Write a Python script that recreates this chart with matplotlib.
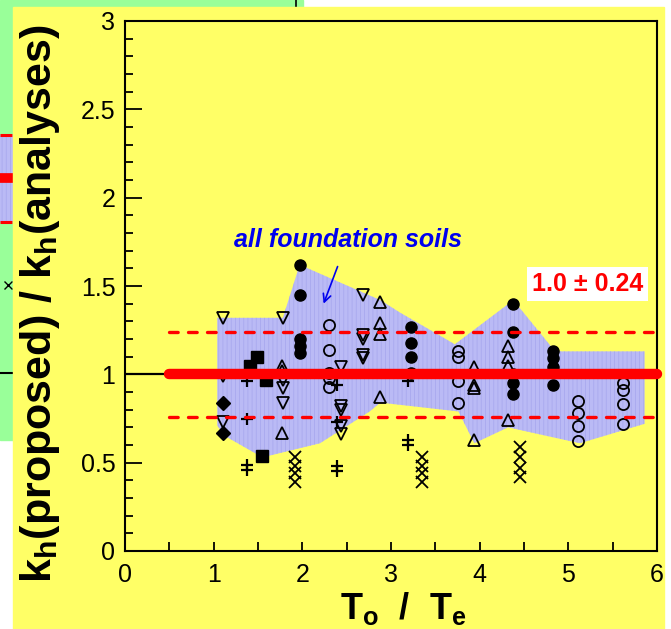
import matplotlib
matplotlib.use("Agg")
import matplotlib.pyplot as plt
from matplotlib.patches import Rectangle, Polygon
from matplotlib.ticker import MultipleLocator

plt.rcParams['font.family'] = ['Liberation Sans', 'DejaVu Sans']
plt.rcParams['hatch.linewidth'] = 0.6
plt.rcParams['mathtext.fontset'] = 'custom'
plt.rcParams['mathtext.rm'] = 'Liberation Sans:bold'
plt.rcParams['mathtext.bf'] = 'Liberation Sans:bold'
plt.rcParams['mathtext.it'] = 'Liberation Sans:bold'

# ---- data: k_h(proposed)/k_h(analyses) versus To/Te ----
# scatter envelope (all foundation soils)
env_x = [1.04, 1.78, 1.97, 2.88, 3.10, 3.72, 4.38, 4.85, 5.86,
         5.86, 5.13, 4.32, 3.94, 3.76, 2.88, 2.76, 2.20, 1.55, 1.13, 1.04]
env_y = [1.32, 1.32, 1.62, 1.42, 1.35, 1.17, 1.42, 1.13, 1.13,
         0.72, 0.61, 0.70, 0.61, 0.79, 0.84, 0.79, 0.61, 0.53, 0.65, 0.71]

circ_full_x = [1.97, 1.97, 1.97, 1.97, 1.97, 3.22, 3.22, 3.22, 3.22,
               4.38, 4.38, 4.38, 4.38, 4.38, 4.83, 4.83, 4.83, 4.83]
circ_full_y = [1.62, 1.45, 1.20, 1.16, 1.12, 1.27, 1.18, 1.10, 1.01,
               1.40, 1.24, 1.00, 0.95, 0.89, 1.13, 1.09, 1.04, 0.94]

circ_open_x = [2.30, 2.30, 2.30, 2.30, 2.30, 3.76, 3.76, 3.76, 3.76,
               5.11, 5.11, 5.11, 5.11, 5.62, 5.62, 5.62, 5.62]
circ_open_y = [1.28, 1.14, 1.01, 0.98, 0.93, 1.13, 1.10, 0.96, 0.84,
               0.85, 0.78, 0.71, 0.62, 0.95, 0.91, 0.83, 0.72]

tri_up_x = [1.77, 1.77, 1.77, 2.88, 2.88, 2.88, 2.88,
            3.94, 3.94, 3.94, 3.94, 4.32, 4.32, 4.32, 4.32]
tri_up_y = [1.05, 1.02, 0.67, 1.41, 1.29, 1.23, 0.87,
            1.04, 0.94, 0.92, 0.63, 1.16, 1.10, 1.05, 0.74]

tri_dn_x = [1.10, 1.10, 1.10, 1.78, 1.78, 1.78, 1.78,
            2.44, 2.44, 2.44, 2.44, 2.44, 2.68, 2.68, 2.68, 2.68, 2.68]
tri_dn_y = [1.32, 0.99, 0.73, 1.32, 0.97, 0.92, 0.84,
            1.04, 0.82, 0.80, 0.71, 0.66, 1.45, 1.22, 1.20, 1.11, 1.09]

sq_x = [1.41, 1.49, 1.59, 1.54]
sq_y = [1.05, 1.10, 0.97, 0.54]

dia_x = [1.10, 1.10]
dia_y = [0.84, 0.67]

plus_x = [1.38, 1.38, 1.38, 1.38, 2.39, 2.39, 2.39, 2.39, 3.19, 3.19, 3.19]
plus_y = [0.96, 0.75, 0.485, 0.46, 0.94, 0.73, 0.48, 0.455, 0.96, 0.63, 0.60]

cross_x = [1.92, 1.92, 1.92, 1.92, 3.35, 3.35, 3.35, 3.35, 4.45, 4.45, 4.45, 4.45]
cross_y = [0.53, 0.48, 0.44, 0.39, 0.53, 0.48, 0.44, 0.39, 0.59, 0.53, 0.47, 0.42]

mean_val = 1.0
band = 0.24
x_ticks = [0, 1, 2, 3, 4, 5, 6]
y_ticks = [0, 0.5, 1, 1.5, 2, 2.5, 3]
y_ticklabels = ['0', '0.5', '1', '1.5', '2', '2.5', '3']

W, H = 671, 629
fig = plt.figure(figsize=(W / 100, H / 100), dpi=100, facecolor='white')


def fr(x0, y0, x1, y1):
    """pixel box (top-left origin) -> figure fraction rectangle args"""
    return (x0 / W, 1 - y1 / H), (x1 - x0) / W, (y1 - y0) / H


# slide panels behind the chart
green = '#99ff99'
yellow = '#ffff66'
xy, w, h = fr(0, 0, 303, 440)
fig.patches.append(Rectangle(xy, w, h, transform=fig.transFigure, color=green, zorder=0))
# remnants of the previous chart on the green panel
xy, w, h = fr(0, 135, 13, 222)
fig.patches.append(Rectangle(xy, w, h, transform=fig.transFigure, facecolor='#babaf5',
                             edgecolor='#a9a9ee', hatch='||||', lw=0, zorder=1))
for yp in (135, 222):
    fig.add_artist(plt.Line2D([0, 12 / W], [1 - yp / H] * 2, color='red', lw=2.2,
                              ls=(0, (4, 2.5)), transform=fig.transFigure, zorder=2))
fig.add_artist(plt.Line2D([0, 13 / W], [1 - 178 / H] * 2, color='red', lw=7,
                          transform=fig.transFigure, zorder=2))
fig.add_artist(plt.Line2D([0, 13 / W], [1 - 373 / H] * 2, color='black', lw=1.5,
                          transform=fig.transFigure, zorder=2))
fig.add_artist(plt.Line2D([8 / W], [1 - 285 / H], marker='x', color='black', ms=6,
                          mew=1, transform=fig.transFigure, zorder=2))
fig.add_artist(plt.Line2D([296 / W] * 2, [1, 1 - 7 / H], color='black', lw=1.2,
                          transform=fig.transFigure, zorder=2))
xy, w, h = fr(13, 7, 664, 629)
fig.patches.append(Rectangle(xy, w, h, transform=fig.transFigure, color=yellow, zorder=3))

# ---- main axes ----
ax = fig.add_axes([125 / W, 1 - 551 / H, 532 / W, 530 / H], zorder=5)
ax.set_facecolor(yellow)
ax.set_xlim(0, 6)
ax.set_ylim(0, 3)

ax.add_patch(Polygon(list(zip(env_x, env_y)), closed=True, facecolor='#babaf5',
                     edgecolor='#a9a9ee', hatch='||||', lw=0, zorder=1))

ms = 8
ax.plot(circ_open_x, circ_open_y, 'o', ms=ms, mfc='none', mec='black', mew=1.3, ls='none', zorder=3)
ax.plot(circ_full_x, circ_full_y, 'o', ms=ms, mfc='black', mec='black', ls='none', zorder=3)
ax.plot(tri_up_x, tri_up_y, '^', ms=ms, mfc='none', mec='black', mew=1.3, ls='none', zorder=3)
ax.plot(tri_dn_x, tri_dn_y, 'v', ms=ms, mfc='none', mec='black', mew=1.3, ls='none', zorder=3)
ax.plot(sq_x, sq_y, 's', ms=ms, mfc='black', mec='black', ls='none', zorder=3)
ax.plot(dia_x, dia_y, 'D', ms=7, mfc='black', mec='black', ls='none', zorder=3)
ax.plot(plus_x, plus_y, '+', ms=9, mec='black', mew=1.6, ls='none', zorder=3)
ax.plot(cross_x, cross_y, 'x', ms=8, mec='black', mew=1.3, ls='none', zorder=3)

# mean and +/- band
ax.plot([0, 0.5], [mean_val, mean_val], color='black', lw=1.6, zorder=4)
ax.plot([0.5, 6], [mean_val, mean_val], color='red', lw=7.5, solid_capstyle='round',
        clip_on=False, zorder=5)
for yv in (mean_val + band, mean_val - band):
    ax.plot([0.5, 6], [yv, yv], color='red', lw=2.4, ls=(0, (2.6, 3.1)),
            dash_capstyle='round', zorder=4)

ax.text(5.22, 1.51, '1.0 \u00b1 0.24', color='red', fontsize=18, fontweight='bold',
        ha='center', va='center', zorder=6,
        bbox=dict(boxstyle='square,pad=0.2', facecolor='white', edgecolor='none'))

ax.annotate('all foundation soils', xy=(2.24, 1.40), xytext=(2.51, 1.76),
            color='#0000ee', fontsize=18, fontweight='bold', fontstyle='italic',
            ha='center', va='center', zorder=6,
            arrowprops=dict(arrowstyle='->', color='#0000ee', lw=1.2,
                            shrinkA=9, shrinkB=0, mutation_scale=14))

# axes styling
for s in ax.spines.values():
    s.set_linewidth(1.5)
ax.set_xticks(x_ticks)
ax.xaxis.set_minor_locator(MultipleLocator(0.5))
ax.set_yticks(y_ticks)
ax.set_yticklabels(y_ticklabels)
ax.yaxis.set_minor_locator(MultipleLocator(0.1))
ax.tick_params(axis='both', which='both', direction='in', width=1.3,
               labelsize=18, top=False, right=False)
ax.tick_params(axis='x', which='both', length=6.5, pad=9)
ax.tick_params(axis='y', which='major', length=12, pad=7)
ax.tick_params(axis='y', which='minor', length=6)

ax.set_xlabel(r'T$_\mathrm{o}$  /  T$_\mathrm{e}$', fontsize=26, fontweight='bold')
ax.xaxis.set_label_coords(0.523, -0.073, transform=ax.transAxes)
ax.xaxis.label.set_va('top')
ax.set_ylabel(r'k$_\mathrm{h}$(proposed) / k$_\mathrm{h}$(analyses)', fontsize=31,
              fontweight='bold')
ax.yaxis.set_label_coords(-0.119, 0.467, transform=ax.transAxes)

fig.savefig('out.png', dpi=100, facecolor=fig.get_facecolor())
